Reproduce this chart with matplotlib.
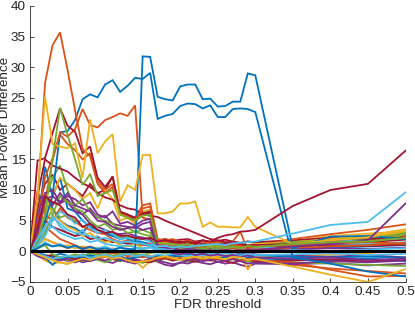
import numpy as np
import matplotlib
matplotlib.use('Agg')
import matplotlib.pyplot as plt

# FDR thresholds (x grid shared by every curve)
fdr = [0.00, 0.01, 0.02, 0.03, 0.04, 0.05, 0.06, 0.07, 0.08, 0.09,
       0.10, 0.11, 0.12, 0.13, 0.14, 0.15, 0.16, 0.17, 0.18, 0.19,
       0.20, 0.21, 0.22, 0.23, 0.24, 0.25, 0.26, 0.27, 0.28, 0.29,
       0.30, 0.35, 0.40, 0.45, 0.50]

# mean power difference per curve
blue_a = [0, 0.5, 1.2, 0.8, 1.0, 0.6, 0.9, 0.4, 0.7, 0.3, 0.5, 0.2, 0.6, 0.4, 0.3, 31.8, 31.7, 25.2, 24.8, 24.6,
          26.9, 27.2, 27.2, 24.8, 24.9, 23.6, 23.7, 24.4, 24.4, 29.0, 28.7, 0.5, 2.4, 2.5, 2.0]
orange_1 = [0, 8.0, 27.4, 33.6, 35.7, 29.6, 23.0, 16.7, 15.5, 11.0, 9.5, 10.5, 6.0, 5.5, 5.0, 7.0, 7.3, 1.8, 1.6, 1.5,
            1.3, 1.6, 1.2, 1.0, 1.4, 1.1, 0.8, 1.0, 0.9, 0.6, 0.8, 1.0, 1.3, 1.5, 1.2]
yellow_1 = [0, 9.0, 25.2, 17.5, 17.1, 16.8, 17.6, 12.0, 21.5, 16.0, 17.9, 19.1, 8.1, 10.8, 10.0, 15.7, 15.7, 6.2, 6.2, 6.5,
            7.8, 7.8, 8.1, 4.0, 4.7, 4.0, 4.0, 3.9, 3.9, 5.6, 4.0, 1.2, 1.8, 2.3, 3.3]
purple_1 = [0, 3.0, 8.5, 9.0, 8.0, 9.5, 7.5, 7.0, 6.5, 5.0, 4.8, 4.0, 3.5, 3.8, 4.0, 3.5, 3.8, 0.8, 0.6, 0.5,
            0.2, 0.4, 0.3, 0.0, 0.2, -0.2, 0.1, 0.0, -0.1, 0.3, 0.2, 0.8, 1.2, 1.8, 7.8]
green_1 = [0, 1.5, 6.0, 15.0, 23.4, 19.0, 15.0, 10.8, 12.6, 9.0, 9.5, 10.0, 6.0, 5.5, 5.0, 5.8, 6.0, 1.5, 1.2, 1.3,
           1.0, 1.2, 0.8, 0.9, 0.7, 1.0, 0.6, 0.8, 0.5, 0.9, 0.7, 1.2, 1.5, 1.6, 2.2]
ltblue_1 = [0, 2.0, 4.0, 5.5, 4.5, 3.5, 3.0, 2.8, 2.5, 2.0, 2.2, 1.8, 1.5, 1.6, 1.4, 1.2, 1.0, 0.8, 0.9, 0.6,
            0.8, 0.7, 0.9, 1.0, 1.1, 1.2, 1.0, 1.3, 1.4, 1.5, 1.6, 2.9, 4.3, 4.8, 9.6]
red_1 = [0, 4.0, 9.0, 8.0, 7.5, 6.0, 5.5, 4.0, 4.5, 3.5, 3.0, 3.2, 2.5, 2.6, 2.2, 2.0, 2.2, 1.6, 1.8, 1.5,
         1.4, 1.6, 1.2, 1.8, 1.6, 2.2, 2.6, 2.8, 3.2, 3.3, 3.5, 7.4, 10.0, 11.0, 16.4]

blue_b = [0, 1.5, 5.0, 9.0, 19.4, 19.6, 21.4, 24.8, 25.6, 25.1, 27.2, 27.9, 26.0, 27.0, 28.3, 28.1, 29.1, 21.6, 22.1, 22.4,
          23.7, 24.1, 24.0, 23.3, 23.8, 21.9, 21.9, 23.2, 23.3, 23.2, 22.7, -1.0, -2.0, -3.3, -4.1]
orange_2 = [0, 2.5, 8.0, 14.8, 19.4, 18.7, 19.9, 23.2, 20.6, 20.2, 21.4, 21.9, 22.5, 22.1, 23.8, 5.5, 5.2, 1.2, 1.0, 0.8,
            0.6, 0.9, 0.5, 0.7, 0.4, 0.6, 0.3, 0.5, 0.2, 0.4, 0.3, 0.5, 0.8, 1.0, 1.4]
yellow_2 = [0, -0.5, -1.0, -1.5, -1.8, -2.0, -1.6, -1.2, -1.4, -1.0, -0.8, -1.2, -1.0, -1.5, -1.8, -1.6, -1.5, -1.0, -0.8, -1.1,
            -1.4, -1.0, -0.9, -1.2, -1.0, -1.1, -1.3, -0.9, -1.0, -1.4, -1.2, -2.5, -3.8, -5.0, -2.9]
purple_2 = [0, 6.0, 9.5, 10.0, 8.0, 9.0, 8.5, 7.5, 8.0, 6.0, 5.5, 6.5, 4.5, 4.8, 4.2, 5.0, 5.3, 1.0, 0.8, 0.5,
            0.6, 0.3, 0.5, 0.2, 0.4, 0.1, 0.3, 0.0, 0.2, -0.2, 0.1, 0.3, 0.5, 0.4, 0.6]
green_2 = [0, 0.8, 3.0, 6.0, 9.0, 8.0, 7.5, 8.5, 6.5, 5.5, 5.0, 4.5, 3.5, 3.8, 3.2, 3.5, 3.0, 0.9, 0.7, 0.8,
           0.5, 0.6, 0.4, 0.5, 0.3, 0.6, 0.5, 0.7, 0.6, 0.8, 0.9, 1.5, 1.8, 2.2, 3.0]
ltblue_2 = [0, 1.0, 2.5, 5.0, 6.5, 5.8, 4.5, 5.2, 3.8, 3.0, 3.5, 2.8, 2.0, 2.2, 1.8, 2.0, 1.6, 0.4, 0.2, 0.3,
            0.0, 0.2, -0.1, 0.1, -0.2, 0.0, -0.3, -0.1, -0.2, 0.0, -0.1, 0.2, 0.0, 0.3, 0.5]
red_2 = [0, 14.8, 15.2, 19.3, 23.3, 20.5, 19.5, 16.0, 17.1, 12.0, 10.5, 12.2, 6.5, 6.0, 5.5, 6.2, 6.5, 1.5, 1.8, 1.4,
         1.6, 1.2, 1.5, 1.1, 1.3, 1.0, 1.2, 0.9, 1.1, 0.8, 1.0, 1.2, 1.6, 1.5, 1.9]

blue_c = [0, 4.0, 13.8, 9.0, 12.0, 7.0, 6.5, 5.0, 4.0, 3.5, 3.0, 2.5, 2.0, 2.2, 1.5, 1.2, 1.0, 0.5, 0.3, 0.4,
          0.2, 0.0, 0.3, 0.1, -0.1, 0.2, 0.0, -0.2, 0.1, -0.1, 0.0, 0.4, 0.6, 0.8, 1.0]
orange_3 = [0, 5.0, 12.0, 15.2, 19.0, 17.5, 16.5, 15.0, 16.0, 11.5, 10.0, 11.0, 6.2, 5.8, 5.5, 7.5, 7.8, 2.0, 1.8, 2.0,
            1.5, 1.8, 1.4, 1.6, 1.2, 1.5, 1.3, 1.6, 3.2, 0.2, 0.8, 2.0, 2.8, 3.5, 4.4]
yellow_3 = [0, 2.0, 6.0, 9.0, 12.0, 11.0, 10.0, 8.5, 9.5, 7.0, 10.0, 8.5, 5.0, 5.5, 4.5, 6.5, 6.8, 1.6, 1.4, 1.2,
            1.0, 1.3, 1.0, 0.8, 1.0, 0.7, 0.9, 0.6, 0.8, 1.0, 1.2, 1.5, 2.0, 2.6, 3.6]
purple_3 = [0, 8.5, 9.0, 7.5, 9.5, 8.0, 6.5, 6.0, 4.5, 4.0, 3.5, 3.0, 2.8, 3.0, 2.5, 2.2, 2.0, 0.2, 0.0, -0.3,
            -0.5, -0.2, -0.6, -0.4, -0.7, -0.5, -0.8, -0.6, -0.9, -0.7, -1.0, -1.2, -1.0, -1.4, -1.2]
green_3 = [0, 2.0, 8.0, 12.0, 14.0, 10.0, 7.0, 6.5, 5.0, 4.0, 4.5, 3.5, 3.8, 3.0, 3.2, 2.8, 2.5, 0.6, 0.4, 0.5,
           0.3, 0.4, 0.2, 0.3, 0.1, 0.2, 0.0, 0.2, 0.1, 0.3, 0.2, 0.6, 0.9, 1.2, 2.8]
ltblue_3 = [0, 1.5, 3.5, 4.0, 3.0, 2.5, 2.0, 2.2, 1.5, 1.8, 1.2, 1.0, 0.8, 1.0, 0.6, 0.5, 0.7, 0.3, 0.5, 0.2,
            0.4, 0.1, 0.3, 0.5, 0.2, 0.4, 0.6, 0.3, 0.5, 0.4, 0.6, 0.8, 1.0, 1.2, 1.5]
red_3 = [0, 9.0, 15.0, 14.0, 13.5, 13.0, 12.0, 11.1, 10.5, 9.5, 8.8, 8.4, 7.5, 7.0, 6.8, 6.0, 5.8, 5.6, 5.0, 4.5,
         4.0, 3.5, 3.0, 2.5, 2.0, 1.8, 1.5, 1.5, 1.2, 1.0, 1.0, 0.8, 1.0, 0.9, 1.1]

blue_d = [0, -0.5, -1.0, -2.2, -1.2, -1.0, -0.8, -1.0, -0.6, -0.9, -0.5, -0.8, -1.5, -1.2, -1.0, -0.8, -1.0, -0.7, -0.9, -0.6,
          -0.8, -0.5, -0.7, -0.4, -0.6, -0.5, -0.8, -0.6, -0.5, -0.7, -0.6, -0.9, -1.0, -0.8, -1.1]
orange_4 = [0, 2.0, 4.0, 3.0, 2.0, 1.5, 1.0, 0.5, 0.8, 0.3, 0.0, -0.3, -0.5, -0.8, -0.6, -1.0, -0.8, -1.2, -1.0, -1.3,
            -1.1, -1.4, -1.2, -1.5, -1.3, -1.1, -1.4, -1.2, -1.5, -1.3, -1.4, -1.8, -3.0, -4.1, -4.0]
yellow_4 = [0, 3.0, 9.0, 6.0, 5.0, 4.0, 3.5, 2.5, 3.0, 2.0, 1.5, 1.8, 1.0, 0.8, 1.2, 0.5, 0.8, 0.3, 0.5, 0.2,
            0.4, 0.6, 0.3, 0.5, 0.8, 0.6, 0.9, 0.7, 1.0, 0.8, 1.1, 1.6, 2.5, 2.9, 3.2]
purple_4 = [0, -0.8, -1.2, -1.0, -1.5, -1.2, -1.8, -1.4, -1.6, -1.2, -1.5, -1.0, -1.3, -1.7, -1.4, -1.6, -1.2, -1.5, -1.8, -2.1,
            -1.9, -1.5, -1.3, -1.6, -1.4, -1.7, -1.5, -1.3, -1.6, -2.0, -1.8, -2.0, -1.6, -1.8, -1.5]
green_4 = [0, 0.5, 1.0, -0.5, -1.0, -0.8, -0.5, -0.7, -0.3, -0.6, -0.4, -0.7, -0.5, -0.2, -0.4, -0.6, -0.3, -0.1, -0.3, 0.0,
           -0.2, 0.1, -0.1, 0.2, 0.0, 0.3, 0.1, 0.4, 0.2, 0.5, 0.3, 0.8, 1.2, 1.6, 3.2]
ltblue_4 = [0, -0.3, -0.8, -1.2, -1.0, -0.7, -0.9, -0.6, -1.1, -0.8, -0.5, -0.9, -0.7, -0.4, -0.8, -0.6, -0.9, -0.5, -0.7, -0.4,
            -0.6, -0.8, -0.5, -0.7, -0.4, -0.6, -0.3, -0.5, -0.7, -0.4, -0.6, -0.5, -0.3, -0.6, -0.4]
red_4 = [0, 7.0, 11.0, 12.5, 10.0, 11.0, 10.0, 9.0, 11.0, 9.5, 10.0, 12.2, 6.3, 6.0, 5.0, 6.0, 6.3, 1.8, 2.0, 1.7,
         1.9, 2.0, 1.6, 1.8, 1.5, 1.7, 1.9, 1.6, 1.4, 1.6, 1.5, 1.8, 2.2, 2.0, 2.3]

blue_e = [0, -0.2, -0.6, -0.9, -0.4, -0.7, -1.0, -0.5, -0.8, -1.2, -0.9, -1.1, -0.8, -1.3, -1.0, -0.7, -1.1, -0.9, -1.2, -1.0,
          -0.7, -1.1, -0.9, -1.3, -1.0, -1.2, -0.9, -1.1, -1.4, -1.0, -1.2, -1.3, -1.5, -1.2, -1.6]
orange_5 = [0, 10.0, 6.0, 5.0, 7.0, 5.5, 4.8, 4.0, 3.5, 3.0, 2.8, 2.0, 1.5, 1.8, 1.2, 1.0, 1.3, 0.5, 0.7, 0.4,
            0.6, 0.3, 0.5, 0.2, 0.4, 0.1, 0.3, 0.5, 0.2, 0.4, 0.6, 1.0, 1.4, 2.0, 2.6]
yellow_5 = [0, -0.5, -1.5, -2.0, -1.8, -2.1, -1.5, -1.2, -1.0, -1.3, -0.9, -1.1, -1.4, -1.2, -1.5, -2.7, -1.6, -1.3, -1.0, -1.2,
            -0.9, -1.1, -0.8, -1.0, -0.7, -0.9, -0.6, -0.8, -0.5, -3.0, -1.0, -0.8, -0.5, -0.3, 0.2]
purple_5 = [0, 5.0, 7.0, 8.0, 7.8, 8.5, 7.0, 6.0, 7.0, 5.5, 5.8, 4.5, 4.2, 4.0, 3.8, 4.5, 4.8, 0.5, 0.3, 0.6,
            0.2, 0.4, 0.0, 0.2, -0.2, 0.0, -0.3, -0.1, -0.4, -0.2, -0.5, -0.7, -0.9, -0.6, -1.0]
green_5 = [0, -0.5, -1.0, -1.3, -0.9, -1.5, -1.2, -1.6, -1.1, -1.4, -1.8, -1.3, -1.6, -1.2, -1.5, -1.9, -1.4, -1.6, -1.2, -1.5,
           -1.3, -1.7, -1.4, -1.1, -1.5, -1.3, -1.6, -1.2, -1.4, -1.7, -1.5, -1.8, -2.0, -2.2, -2.4]
ltblue_5 = [0, 0.5, 1.5, 0.8, 1.2, 0.6, 0.9, 0.4, 0.7, 0.5, 0.8, 0.3, 0.6, 0.2, 0.5, 0.3, 0.6, 0.1, 0.4, 0.2,
            0.5, 0.3, 0.6, 0.4, 0.7, 0.5, 0.8, 0.6, 0.9, 0.7, 1.0, 1.4, 1.7, 2.0, 2.2]
red_5 = [0, -0.4, -0.8, -0.6, -1.1, -0.9, -1.3, -1.0, -1.4, -1.1, -0.8, -1.2, -1.5, -1.1, -1.3, -1.6, -1.8, -1.4, -1.1, -1.5,
         -1.2, -1.4, -1.7, -1.3, -1.5, -1.2, -1.6, -1.9, -1.5, -1.3, -1.6, -1.5, -1.3, -1.6, -1.4]

blue_f = [0, 1.0, 9.5, 7.0, 5.0, 4.2, 3.8, 3.0, 4.5, 3.5, 3.0, 2.5, 2.8, 2.0, 1.8, 1.5, 1.2, 1.0, 0.8, 1.1,
          0.9, 1.2, 1.0, 1.3, 1.1, 1.4, 1.2, 1.5, 1.3, 1.6, 1.4, 1.6, 1.9, 2.1, 2.5]
orange_6 = [0, 3.0, 2.0, 1.5, 1.0, 0.5, 0.8, 0.3, 0.0, -0.3, -0.5, -0.2, -0.6, -0.4, -0.8, -0.5, -0.9, -0.6, -1.0, -0.7,
            -1.1, -0.8, -1.2, -0.9, -1.3, -1.0, -1.4, -1.1, -1.5, -1.2, -1.6, -2.2, -2.8, -3.2, -3.6]
yellow_6 = [0, 1.0, 2.0, 1.5, 0.8, 1.0, 0.5, 0.8, 0.3, 0.6, 0.2, 0.5, 0.0, 0.3, -0.2, 0.1, -0.3, 0.0, 0.3, 0.1,
            0.4, 0.2, 0.5, 0.3, 0.6, 0.4, 0.7, 0.5, 0.8, 0.6, 0.9, 1.3, 1.6, 2.0, 2.4]
purple_6 = [0, -0.6, -1.0, -1.4, -1.1, -1.6, -1.3, -1.8, -1.5, -1.2, -1.6, -1.9, -1.4, -1.7, -2.0, -1.6, -1.3, -1.7, -2.2, -2.4,
            -1.8, -2.0, -1.6, -1.9, -2.1, -1.7, -2.0, -1.8, -2.2, -2.5, -2.0, -2.1, -1.9, -2.3, -2.0]
green_6 = [0, 1.0, 4.5, 7.0, 5.5, 6.0, 5.0, 4.0, 4.5, 3.5, 3.0, 2.8, 2.2, 2.5, 2.0, 2.3, 1.8, 0.6, 0.8, 0.5,
           0.7, 0.9, 0.6, 0.8, 1.0, 0.7, 0.9, 1.1, 0.8, 1.0, 1.2, 1.6, 2.0, 2.4, 2.9]
ltblue_6 = [0, 0.5, 9.5, 6.0, 4.0, 3.0, 2.5, 3.5, 2.0, 2.5, 1.5, 2.0, 1.2, 1.5, 1.0, 1.3, 0.8, 0.0, -0.3, -0.1,
            -0.4, -0.2, -0.5, -0.3, -0.6, -0.4, -0.7, -0.5, -0.8, -0.6, -0.9, -1.0, -0.8, -1.1, -0.9]
red_6 = [0, 2.0, 5.0, 4.0, 3.5, 3.0, 2.5, 2.8, 2.0, 2.2, 1.8, 1.5, 1.6, 1.2, 1.4, 1.0, 1.2, 0.8, 1.0, 0.7,
         0.9, 0.6, 0.8, 0.5, 0.7, 0.4, 0.6, 0.3, 0.5, 0.2, 0.4, 0.6, 0.8, 1.0, 1.3]

# plotted in this order, colours follow the matlab default cycle
curves = [blue_f, orange_6, yellow_6, purple_6, green_6, ltblue_6, red_6,
          blue_e, orange_5, yellow_5, purple_5, green_5, ltblue_5, red_5,
          blue_d, orange_4, yellow_4, purple_4, green_4, ltblue_4, red_4,
          blue_c, orange_3, yellow_3, purple_3, green_3, ltblue_3, red_3,
          blue_b, orange_2, yellow_2, purple_2, green_2, ltblue_2, red_2,
          blue_a, orange_1, yellow_1, purple_1, green_1, ltblue_1, red_1]

matlab_colors = ['#0072BD', '#D95319', '#EDB120', '#7E2F8E',
                 '#77AC30', '#4DBEEE', '#A2142F']

xticks = [0, 0.05, 0.1, 0.15, 0.2, 0.25, 0.3, 0.35, 0.4, 0.45, 0.5]
xtick_labels = ['0', '0.05', '0.1', '0.15', '0.2', '0.25', '0.3', '0.35', '0.4', '0.45', '0.5']
yticks = [-5, 0, 5, 10, 15, 20, 25, 30, 35, 40]

plt.rcParams['font.family'] = ['Liberation Sans', 'DejaVu Sans']

fig = plt.figure(figsize=(4.15, 3.12), dpi=100)
ax = fig.add_axes([30 / 415, 30 / 312, 375.5 / 415, 276 / 312])

for i, c in enumerate(curves):
    ax.plot(fdr, c, color=matlab_colors[i % 7], lw=1.3, solid_joinstyle='miter')

ax.axhline(0, color='k', lw=2.2)

ax.set_xlim(0, 0.5)
ax.set_ylim(-5, 40)
ax.set_xticks(xticks)
ax.set_xticklabels(xtick_labels)
ax.set_yticks(yticks)

ax.spines['top'].set_visible(False)
ax.spines['right'].set_visible(False)
for s in ['left', 'bottom']:
    ax.spines[s].set_color('#262626')
    ax.spines[s].set_linewidth(0.6)
ax.tick_params(direction='in', length=3, width=0.6, colors='#262626',
               labelsize=9.7, pad=3)

ax.set_xlabel('FDR threshold', fontsize=9.7, color='#262626', va='center')
ax.set_ylabel('Mean Power Difference', fontsize=9.7, color='#262626', va='center')
ax.xaxis.set_label_coords(0.5, -0.085)
ax.yaxis.set_label_coords(-0.066, 0.56)

fig.savefig('out.png', dpi=100)
